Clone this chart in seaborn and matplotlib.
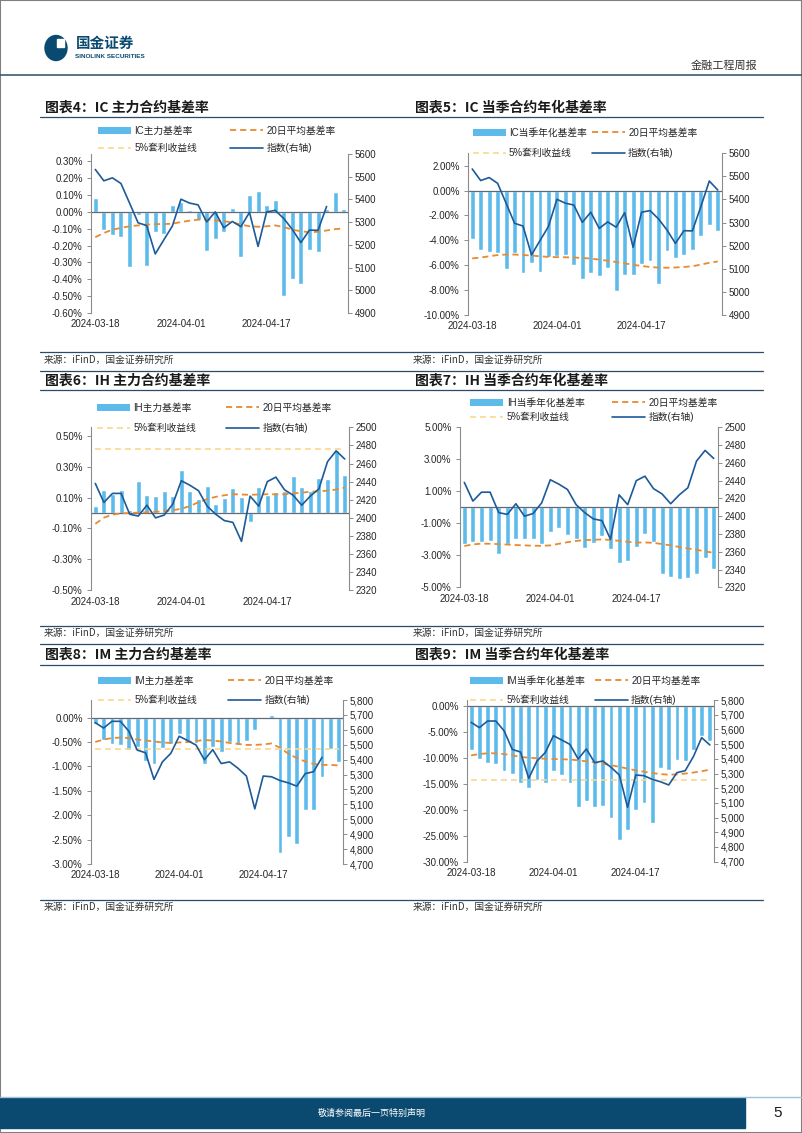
import numpy as np
import pandas as pd
import matplotlib
matplotlib.use("Agg")
import matplotlib.pyplot as plt
import seaborn as sns
from matplotlib.lines import Line2D
from matplotlib.patches import Patch, Rectangle, Ellipse
from matplotlib.ticker import FuncFormatter

sns.set_style("white")
plt.rcParams["font.family"] = ["Liberation Sans", "Noto Sans CJK SC", "DejaVu Sans"]
plt.rcParams["axes.unicode_minus"] = False

W, H = 802, 1133
NAN = np.nan

dates = ["2024-03-18", "2024-03-19", "2024-03-20", "2024-03-21", "2024-03-22",
         "2024-03-25", "2024-03-26", "2024-03-27", "2024-03-28", "2024-03-29",
         "2024-04-01", "2024-04-02", "2024-04-03", "2024-04-08", "2024-04-09",
         "2024-04-10", "2024-04-11", "2024-04-12", "2024-04-15", "2024-04-16",
         "2024-04-17", "2024-04-18", "2024-04-19", "2024-04-22", "2024-04-23",
         "2024-04-24", "2024-04-25", "2024-04-26", "2024-04-29", "2024-04-30"]
tick_idx = [0, 10, 20]

# index levels (right axis)
ic_index = [5532, 5482, 5495, 5470, 5384, 5297, 5285, 5160, 5222, 5283,
            5401, 5384, 5376, 5301, 5345, 5275, 5303, 5280, 5343, 5193,
            5345, 5352, 5316, 5268, 5210, 5265, 5264, 5369, 5480, 5441]
ic_index_main = ic_index[:28] + [NAN, NAN]
ih_index = [2438, 2417, 2427, 2427, 2404, 2402, 2414, 2400, 2403, 2415,
            2441, 2436, 2430, 2413, 2404, 2397, 2395, 2374, 2424, 2413,
            2440, 2445, 2431, 2425, 2414, 2424, 2432, 2462, 2474, 2465]
im_index = [5648, 5612, 5657, 5657, 5591, 5464, 5446, 5267, 5385, 5442,
            5557, 5528, 5498, 5399, 5467, 5374, 5385, 5342, 5290, 5070,
            5290, 5285, 5260, 5244, 5222, 5306, 5319, 5415, 5544, 5494]
im_index_main = im_index[:28] + [NAN, NAN]

# IC main contract basis (%)
ic_main_basis = [0.085, -0.107, -0.137, -0.148, -0.325, -0.02, -0.318, -0.117, -0.13, 0.04,
                 0.057, 0.012, -0.045, -0.233, -0.163, -0.12, 0.022, -0.265, 0.10, 0.125,
                 0.042, 0.07, -0.50, -0.40, -0.43, -0.225, -0.235, 0.02, 0.12, 0.02]
ic_main_ma20 = [-0.150, -0.125, -0.105, -0.095, -0.085, -0.080, -0.075, -0.072, -0.072, -0.070,
                -0.060, -0.052, -0.046, -0.045, -0.050, -0.055, -0.062, -0.075, -0.085, -0.088,
                -0.085, -0.080, -0.090, -0.105, -0.115, -0.120, -0.118, -0.110, -0.102, -0.098]
ic_main_arb = [NAN] * 30

# IC quarterly annualized basis (%)
ic_q_basis = [-3.93, -4.74, -4.90, -5.03, -6.29, -5.03, -6.61, -5.84, -6.56, -5.35,
              -5.22, -5.19, -6.02, -7.09, -6.61, -6.90, -6.21, -8.09, -6.77, -6.80,
              -5.89, -5.68, -7.50, -4.87, -5.43, -5.17, -4.77, -3.67, -2.73, -3.24]
ic_q_ma20 = [-5.45, -5.38, -5.28, -5.18, -5.14, -5.14, -5.18, -5.22, -5.28, -5.33,
             -5.35, -5.36, -5.38, -5.41, -5.47, -5.54, -5.64, -5.74, -5.85, -5.96,
             -6.06, -6.14, -6.19, -6.20, -6.18, -6.14, -6.08, -5.95, -5.80, -5.70]
ic_q_arb = [NAN] * 30

# IH main contract basis (%)
ih_main_basis = [0.043, 0.149, 0.123, 0.149, 0.02, 0.205, 0.114, 0.108, 0.144, 0.112,
                 0.276, 0.14, 0.09, 0.173, 0.06, 0.097, 0.165, 0.103, -0.06, 0.168,
                 0.12, 0.135, 0.14, 0.24, 0.17, 0.14, 0.225, 0.222, 0.41, 0.248]
ih_main_ma20 = [-0.070, -0.030, -0.010, -0.002, 0.000, 0.003, 0.005, 0.008, 0.012, 0.018,
                0.028, 0.045, 0.070, 0.090, 0.105, 0.115, 0.122, 0.120, 0.118, 0.120,
                0.122, 0.121, 0.122, 0.127, 0.132, 0.138, 0.140, 0.145, 0.152, 0.165]
ih_main_arb = [0.414] * 30

# IH quarterly annualized basis (%)
ih_q_basis = [-2.30, -2.20, -2.15, -2.09, -2.89, -2.30, -1.99, -2.01, -2.01, -2.30,
              -1.57, -1.30, -1.74, -1.99, -2.57, -2.22, -1.78, -2.59, -3.51, -3.35,
              -2.47, -1.69, -2.18, -4.20, -4.33, -4.50, -4.41, -4.14, -3.16, -3.87]
ih_q_ma20 = [-2.42, -2.32, -2.27, -2.28, -2.30, -2.33, -2.36, -2.38, -2.40, -2.41,
             -2.38, -2.28, -2.18, -2.10, -2.05, -2.03, -2.01, -2.04, -2.10, -2.16,
             -2.20, -2.20, -2.22, -2.30, -2.38, -2.48, -2.57, -2.66, -2.75, -2.85]
ih_q_arb = [NAN] * 30

# IM main contract basis (%)
im_main_basis = [-0.14, -0.46, -0.55, -0.57, -0.66, -0.60, -0.88, -0.95, -0.63, -0.54,
                 -0.33, -0.48, -0.53, -0.96, -0.61, -0.71, -0.51, -0.56, -0.48, -0.25,
                 0.01, 0.06, -2.78, -2.45, -2.60, -1.90, -1.89, -1.21, -0.64, -0.90]
im_main_ma20 = [-0.50, -0.45, -0.42, -0.41, -0.42, -0.45, -0.47, -0.49, -0.51, -0.52,
                -0.51, -0.50, -0.48, -0.46, -0.47, -0.49, -0.52, -0.54, -0.56, -0.56,
                -0.55, -0.53, -0.62, -0.74, -0.83, -0.90, -0.95, -0.97, -0.97, -0.98]
im_main_arb = [-0.65] * 30

# IM quarterly annualized basis (%)
im_q_basis = [-8.60, -10.30, -10.96, -11.15, -12.56, -13.08, -14.80, -15.83, -14.36, -14.87,
              -12.63, -13.40, -14.87, -19.49, -18.40, -19.49, -19.36, -21.60, -25.90, -23.97,
              -20.13, -18.72, -22.56, -11.99, -12.44, -10.51, -10.64, -8.46, -5.90, -6.80]
im_q_ma20 = [-9.55, -9.30, -9.15, -9.15, -9.30, -9.55, -9.85, -10.00, -10.10, -10.20,
             -10.25, -10.30, -10.35, -10.50, -10.70, -10.90, -11.15, -11.45, -11.75, -12.10,
             -12.45, -12.70, -12.95, -13.15, -13.27, -13.20, -13.05, -12.85, -12.60, -12.30]
im_q_arb = [-14.23] * 30

BAR = "#5DBBEB"
ORANGE = "#E98A2E"
YELLOW = "#FAD78C"
BLUE = "#1C5A99"
NAVY = "#2A4B69"
GREY = "#8C8C8C"
TXT = "#262626"
CJK = ["Noto Sans CJK SC", "DejaVu Sans"]

fig = plt.figure(figsize=(W / 100, H / 100), dpi=100)


def fx(x):
    return x / W


def fy(y):
    return 1 - y / H


def hline(y, x0, x1, color=NAVY, lw=0.9):
    fig.add_artist(Line2D([fx(x0), fx(x1)], [fy(y), fy(y)], color=color, lw=lw,
                          transform=fig.transFigure))


def pct_fmt(v, _):
    return f"{round(v, 4) + 0.0:.2f}%"


def draw_chart(box, name, basis, ma20, arb, index, ylim, ystep, y2lim, y2step, comma,
               leg_xy, colsp, labsp):
    left, top, right, bottom = box
    ax = fig.add_axes([fx(left), fy(bottom), (right - left) / W, (bottom - top) / H])
    df = pd.DataFrame({"pos": np.arange(len(dates)), "basis": basis, "ma20": ma20,
                       "arb": arb, "index": index})

    sns.barplot(data=df, x="pos", y="basis", color=BAR, saturation=1, width=0.58,
                errorbar=None, ax=ax, zorder=2)
    ax.axhline(0, color="#5F6B78", lw=0.9, zorder=2.5)
    sns.lineplot(data=df, x="pos", y="ma20", color=ORANGE, lw=1.3, ax=ax, zorder=3)
    ax.lines[-1].set_dashes([3.4, 2.2])
    if df["arb"].notna().any():
        sns.lineplot(data=df, x="pos", y="arb", color=YELLOW, lw=1.2, ax=ax, zorder=3)
        ax.lines[-1].set_dashes([3.5, 2.5])

    ax2 = ax.twinx()
    sns.lineplot(data=df, x="pos", y="index", color=BLUE, lw=1.2, ax=ax2)

    ax.set_xlim(-0.5, len(dates) - 0.5)
    ax.set_ylim(*ylim)
    ax2.set_ylim(*y2lim)
    for a in (ax, ax2):
        a.set_xlabel("")
        a.set_ylabel("")
        for s in a.spines.values():
            s.set_visible(False)
    ax.spines["left"].set_visible(True)
    ax.spines["left"].set_color(GREY)
    ax.spines["left"].set_linewidth(0.8)
    ax2.spines["right"].set_visible(True)
    ax2.spines["right"].set_color(GREY)
    ax2.spines["right"].set_linewidth(0.8)

    ax.set_yticks(np.round(np.arange(ylim[0], ylim[1] + 1e-9, ystep), 4))
    ax.yaxis.set_major_formatter(FuncFormatter(pct_fmt))
    ax2.set_yticks(np.arange(y2lim[0], y2lim[1] + 1, y2step))
    if comma:
        ax2.yaxis.set_major_formatter(FuncFormatter(lambda v, _: f"{int(round(v)):,}"))
    else:
        ax2.yaxis.set_major_formatter(FuncFormatter(lambda v, _: f"{int(round(v))}"))
    ax.set_xticks(tick_idx)
    ax.set_xticklabels([dates[i] for i in tick_idx])

    ax.tick_params(axis="y", length=3, width=0.7, color=GREY, labelsize=7,
                   labelcolor=TXT, pad=3)
    ax2.tick_params(axis="y", length=3, width=0.7, color=GREY, labelsize=7,
                    labelcolor=TXT, pad=2)
    ax.tick_params(axis="x", length=0, labelsize=7, labelcolor=TXT, pad=4.5)

    handles = [Patch(facecolor=BAR, edgecolor="none"),
               Line2D([], [], color=YELLOW, lw=1.2, dashes=[3.5, 2.5]),
               Line2D([], [], color=ORANGE, lw=1.3, dashes=[3.4, 2.2]),
               Line2D([], [], color=BLUE, lw=1.2)]
    labels = [name, "5%套利收益线", "20日平均基差率", "指数(右轴)"]
    leg = fig.legend(handles, labels, loc="center",
                     bbox_to_anchor=(fx(leg_xy[0]), fy(leg_xy[1])), ncol=2,
                     frameon=False, fontsize=7, handlelength=3.4, handletextpad=0.35,
                     columnspacing=colsp, labelspacing=labsp, borderpad=0,
                     borderaxespad=0)
    for t in leg.get_texts():
        t.set_color(TXT)


charts = [
    dict(box=(91, 154, 348, 313), name="IC主力基差率", basis=ic_main_basis,
         ma20=ic_main_ma20, arb=ic_main_arb, index=ic_index_main,
         ylim=(-0.6, 0.344), ystep=0.1, y2lim=(4900, 5600), y2step=100, comma=False,
         leg_xy=(217, 139.5), colsp=3.4, labsp=0.75),
    dict(box=(468, 153.3, 722, 315), name="IC当季年化基差率", basis=ic_q_basis,
         ma20=ic_q_ma20, arb=ic_q_arb, index=ic_index,
         ylim=(-10, 3), ystep=2, y2lim=(4900, 5600), y2step=100, comma=False,
         leg_xy=(585, 143), colsp=0.5, labsp=1.05),
    dict(box=(91, 427.3, 349, 590.3), name="IH主力基差率", basis=ih_main_basis,
         ma20=ih_main_ma20, arb=ih_main_arb, index=ih_index,
         ylim=(-0.5, 0.555), ystep=0.2, y2lim=(2320, 2500), y2step=20, comma=False,
         leg_xy=(214.5, 418), colsp=3.1, labsp=1.05),
    dict(box=(460, 427.3, 718, 587.3), name="IH当季年化基差率", basis=ih_q_basis,
         ma20=ih_q_ma20, arb=ih_q_arb, index=ih_index,
         ylim=(-5, 5), ystep=2, y2lim=(2320, 2500), y2step=20, comma=False,
         leg_xy=(594, 410), colsp=2.8, labsp=0.45),
    dict(box=(91, 700, 343, 864), name="IM主力基差率", basis=im_main_basis,
         ma20=im_main_ma20, arb=im_main_arb, index=im_index_main,
         ylim=(-3, 0.36), ystep=0.5, y2lim=(4700, 5800), y2step=100, comma=True,
         leg_xy=(216, 690.5), colsp=3.2, labsp=0.95),
    dict(box=(467, 700, 714, 861.7), name="IM当季年化基差率", basis=im_q_basis,
         ma20=im_q_ma20, arb=im_q_arb, index=im_index,
         ylim=(-30, 1.1), ystep=5, y2lim=(4700, 5800), y2step=100, comma=True,
         leg_xy=(585, 690.5), colsp=1.0, labsp=0.95),
]
for c in charts:
    draw_chart(**c)

titles = [("图表4：IC 主力合约基差率", 45, 108), ("图表5：IC 当季合约年化基差率", 415, 108),
          ("图表6：IH 主力合约基差率", 45, 381), ("图表7：IH 当季合约年化基差率", 415, 381),
          ("图表8：IM 主力合约基差率", 45, 655), ("图表9：IM 当季合约年化基差率", 415, 655)]
for text, x, y in titles:
    fig.text(fx(x), fy(y), text, fontsize=10, fontweight="bold", family=CJK,
             color="#1A1A1A", va="center", ha="left")

for y in (360, 633, 907):
    for x in (44, 413):
        fig.text(fx(x), fy(y), "来源：iFinD，国金证券研究所", fontsize=7, family=CJK,
                 color="#333333", va="center", ha="left")

# page frame and rules
hline(75, 0, 802, color="#3D5A73", lw=1.2)
for y in (117, 390, 665, 371, 644, 352, 626, 900):
    hline(y, 40, 763)

fig.add_artist(Rectangle((0, 0), 1, 1, fill=False, edgecolor="#7F7F7F", lw=1.5,
                         transform=fig.transFigure))

# header
fig.add_artist(Ellipse((fx(56), fy(48)), 22 / W, 25 / H, color="#0B4A70",
                       transform=fig.transFigure))
fig.add_artist(Rectangle((fx(57), fy(47)), 7 / W, 8 / H, color="white",
                         transform=fig.transFigure))
fig.text(fx(76), fy(43), "国金证券", fontsize=10.5, fontweight="bold", family=CJK,
         color="#0B4A70", va="center", ha="left")
fig.text(fx(75), fy(57), "SINOLINK SECURITIES", fontsize=4.6, fontweight="bold",
         color="#0B4A70", va="center", ha="left")
fig.text(fx(724), fy(66), "金融工程周报", fontsize=8, family=CJK, color="#333333",
         va="center", ha="center")

# footer
hline(1097, 0, 802, color="#9EC3D8", lw=1.0)
fig.add_artist(Rectangle((0, fy(1128)), fx(745), 30 / H, color="#0B4A70",
                         transform=fig.transFigure))
fig.text(fx(372), fy(1113), "敬请参阅最后一页特别声明", fontsize=6.5, family=CJK,
         color="white", va="center", ha="center")
fig.text(fx(778), fy(1113), "5", fontsize=11, color="#1A1A1A", va="center", ha="center")

fig.savefig("out.png", dpi=100)
